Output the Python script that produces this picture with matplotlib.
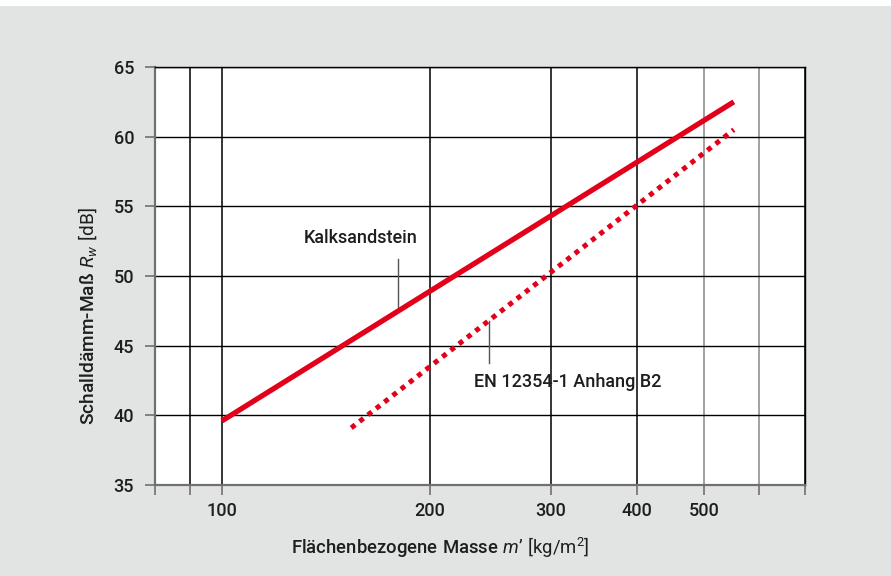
import matplotlib.pyplot as plt
from matplotlib.patches import Rectangle

# Daten
kalk_m = [100, 552]
kalk_rw = [39.6, 62.5]
en_m = [154, 552]
en_rw = [39.1, 60.5]

x_grid = [80, 90, 100, 200, 300, 400, 500, 600, 700]
x_labels = ["", "", "100", "200", "300", "400", "500", "", ""]
y_ticks = [35, 40, 45, 50, 55, 60, 65]

rot = "#e2001a"
grau_bg = "#e2e3e3"
txt = "#1e1e1e"

plt.rcParams['font.family'] = ['Roboto', 'DejaVu Sans']
plt.rcParams['font.weight'] = 'medium'
plt.rcParams['mathtext.fontset'] = 'custom'
plt.rcParams['mathtext.bf'] = 'Roboto:medium'
plt.rcParams['mathtext.it'] = 'Roboto:italic:weight=normal'
plt.rcParams['mathtext.rm'] = 'Roboto:weight=normal'

fig = plt.figure(figsize=(8.91, 5.76), dpi=100)
fig.patch.set_facecolor("white")
fig.patches.append(Rectangle((0, 0), 1, 1 - 6 / 576, transform=fig.transFigure,
                             facecolor=grau_bg, edgecolor="none", zorder=-10))

ax = fig.add_axes([155 / 891, 91 / 576, 650 / 891, 418 / 576])
ax.set_facecolor("white")
ax.set_xscale("log")
ax.set_xlim(80, 700)
ax.set_ylim(35, 65)

ax.set_xticks(x_grid)
ax.set_xticklabels(x_labels)
ax.minorticks_off()
ax.set_yticks(y_ticks)

for x in x_grid[1:]:
    c = "#888888" if x in (500, 600) else "black"
    ax.axvline(x, color=c, lw=1.1, zorder=1)
for y in y_ticks[1:]:
    ax.axhline(y, color="black", lw=1.0, zorder=1)

for s in ["left", "bottom"]:
    ax.spines[s].set_color("#707070")
    ax.spines[s].set_linewidth(1.6)
ax.spines["top"].set_color("black")
ax.spines["right"].set_color("black")
ax.spines["top"].set_linewidth(1.0)
ax.spines["right"].set_linewidth(1.0)

ax.tick_params(axis="both", length=7, width=1.2, color="#707070",
               labelsize=13, labelcolor=txt)
ax.tick_params(axis="x", pad=5)
ax.tick_params(axis="y", pad=8)

ax.plot(kalk_m, kalk_rw, color=rot, lw=3.8, solid_capstyle="butt", zorder=3)
ax.plot(en_m, en_rw, color=rot, lw=3.6, linestyle=(0, (1.0, 1.1)),
        dash_capstyle="butt", zorder=3)

# Beschriftungen mit Hinweislinien
ax.text(159, 52.7, "Kalksandstein", ha="center", va="center", fontsize=13,
        color=txt)
ax.plot([180, 180], [51.2, 47.7], color="#555555", lw=1.0, zorder=2)
ax.text(317, 42.4, "EN 12354-1 Anhang B2", ha="center", va="center",
        fontsize=13, color=txt)
ax.plot([243.5, 243.5], [46.8, 43.75], color="#555555", lw=1.0, zorder=2)

# Achsentitel (etwas aus der Mitte versetzt wie im Original)
fig.text(440 / 891, 1 - 548 / 576,
         r"$\mathbf{Flächenbezogene\ Masse}\ \mathit{m’}\ \mathrm{[kg/m^{2}]}$",
         ha="center", va="center", fontsize=13.3, color=txt)
fig.text(88 / 891, 1 - 316 / 576,
         r"$\mathbf{Schalldämm}$-$\mathbf{Maß}\ \mathit{R_{w}}\ \mathrm{[dB]}$",
         ha="center", va="center", rotation=90, fontsize=13.8, color=txt)

fig.savefig("out.png", dpi=100)
